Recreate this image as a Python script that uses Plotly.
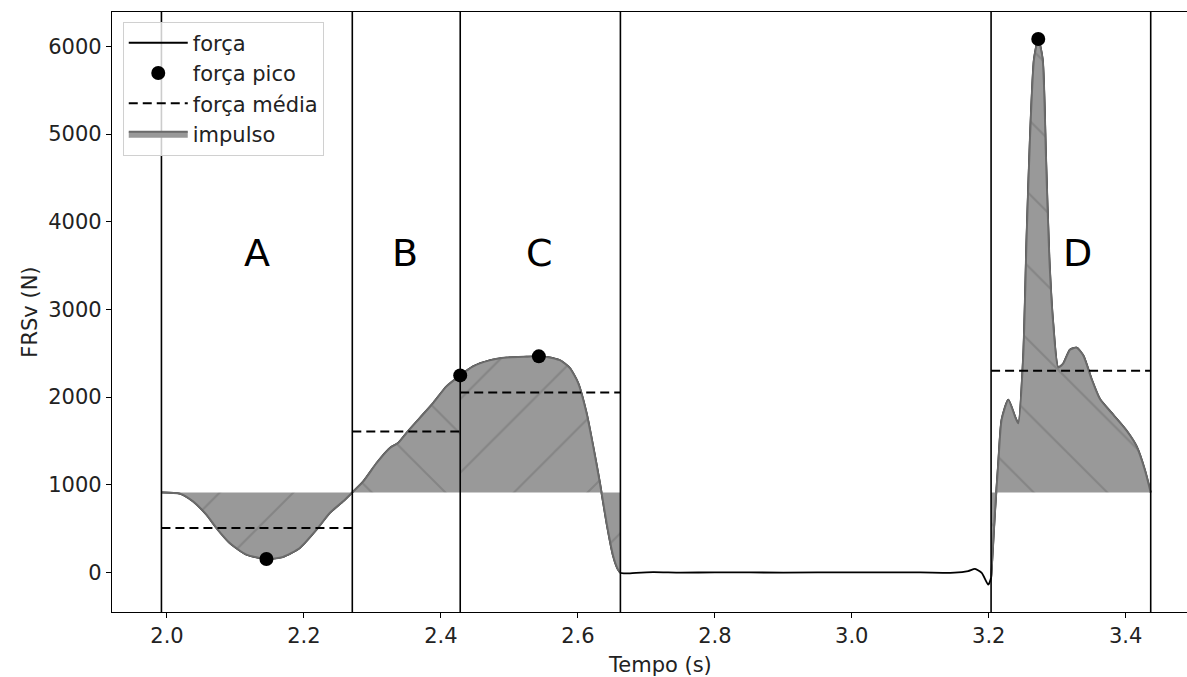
import numpy as np
import plotly.graph_objects as go

# ---- data ----
time_s = [1.9919, 2.0186, 2.0380, 2.0576, 2.0722, 2.0916, 2.1160, 2.1452, 2.1695, 2.1939, 2.2183, 2.2377, 2.2572, 2.2706,
          2.2867, 2.3062, 2.3256, 2.3375, 2.3497, 2.3692, 2.3887, 2.4082, 2.4282,
          2.4470, 2.4711, 2.4958, 2.5250, 2.5430, 2.5542, 2.5737, 2.5883, 2.6005, 2.6127, 2.6224, 2.6322, 2.6419, 2.6516, 2.6580, 2.6621,
          2.6700, 2.6850, 2.7100, 2.7500, 2.8000, 2.9000, 3.0000, 3.1000, 3.1500, 3.1700, 3.1799, 3.1897, 3.1993, 3.2034,
          3.2051, 3.2090, 3.2139, 3.2188, 3.2285, 3.2383, 3.2431, 3.2504, 3.2553, 3.2602, 3.2661, 3.2723, 3.2787, 3.2836, 3.2884,
          3.2942, 3.3015, 3.3088, 3.3186, 3.3284, 3.3381, 3.3503, 3.3624, 3.3819, 3.4014, 3.4160, 3.4281, 3.4365]
force_n = [912, 898, 810, 658, 506, 335, 202, 153, 176, 278, 487, 678, 810, 912,
           1038, 1248, 1419, 1476, 1590, 1761, 1932, 2122, 2247,
           2350, 2418, 2450, 2460, 2464, 2458, 2420, 2330, 2160, 1818, 1437, 1020, 563, 183, 40, -5,
           -12, -5, 2, -3, 0, -2, 0, 0, -4, 15, 40, -5, -140, -60,
           145, 678, 1248, 1742, 1970, 1780, 1700, 2473, 3827, 4954, 5856, 6084, 5856, 4728, 3601,
           2834, 2338, 2383, 2540, 2563, 2473, 2203, 1977, 1797, 1616, 1436, 1166, 912]

body_weight = 912
boundaries = [1.9919, 2.2706, 2.4282, 2.6621, 3.2034, 3.4365]
phase_labels = ["A", "B", "C", "D"]
phase_starts = [1.9919, 2.2706, 2.4282, 3.2034]
phase_ends = [2.2706, 2.4282, 2.6621, 3.4365]
phase_mean = [506, 1608, 2053, 2300]
phase_hatch = ["/", "\\", "/", "\\"]
label_x = [2.1311, 2.3473, 2.5445, 3.3302]
label_y = 3647
peak_t = [2.1452, 2.4282, 2.5430, 3.2723]
peak_f = [153, 2247, 2464, 6084]

x_ticks = [2.0, 2.2, 2.4, 2.6, 2.8, 3.0, 3.2, 3.4]
y_ticks = [0, 1000, 2000, 3000, 4000, 5000, 6000]

# ---- figure ----
t = np.array(time_s)
f = np.array(force_n)
FONT = "DejaVu Sans"
FILL = "#999999"
EDGE = "#6a6a6a"
FS = 21

fig = go.Figure()

# full force curve (black)
fig.add_trace(go.Scatter(x=t, y=f, mode="lines", name="força",
                         line=dict(color="black", width=1.8, shape="spline", smoothing=0.6),
                         legendgroup="g1", legendrank=1))

# impulse fills
for i in range(4):
    t0, t1 = phase_starts[i], phase_ends[i]
    m = (t >= t0 - 1e-9) & (t <= t1 + 1e-9)
    fig.add_trace(go.Scatter(x=[t0, t1], y=[body_weight, body_weight], mode="lines",
                             line=dict(width=0, color=FILL), showlegend=False, hoverinfo="skip"))
    fig.add_trace(go.Scatter(x=t[m], y=f[m], mode="lines", fill="tonexty", fillcolor=FILL,
                             fillpattern=dict(shape=phase_hatch[i], size=52, solidity=0.04,
                                              fgcolor="#858585", bgcolor=FILL, fillmode="replace"),
                             line=dict(color=EDGE, width=2, shape="spline", smoothing=0.6),
                             name="impulso", legendgroup="g4", legendrank=4, showlegend=(i == 3)))

# mean force dashed lines
mx, my = [], []
for i in range(4):
    mx += [phase_starts[i], phase_ends[i], None]
    my += [phase_mean[i], phase_mean[i], None]
fig.add_trace(go.Scatter(x=mx, y=my, mode="lines", name="força média",
                         line=dict(color="black", width=2, dash="9px,5px"),
                         legendgroup="g3", legendrank=3))

# peak points
fig.add_trace(go.Scatter(x=peak_t, y=peak_f, mode="markers", name="força pico",
                         marker=dict(color="black", size=14), legendgroup="g2", legendrank=2))

# vertical phase boundaries
for b in boundaries:
    fig.add_shape(type="line", x0=b, x1=b, y0=0, y1=1, xref="x", yref="paper",
                  line=dict(color="black", width=1.6), layer="above")

# phase letters
for lx, lab in zip(label_x, phase_labels):
    fig.add_annotation(x=lx, y=label_y, text=lab, showarrow=False, xanchor="center", yanchor="middle",
                       font=dict(family=FONT, size=38, color="black"))

# axis titles
fig.add_annotation(x=-0.0766, y=0.5, xref="paper", yref="paper", text="FRSv (N)", textangle=-90,
                   showarrow=False, xanchor="center", yanchor="middle",
                   font=dict(family=FONT, size=FS, color="#222"))
fig.add_annotation(x=0.5096, y=-0.088, xref="paper", yref="paper", text="Tempo (s)",
                   showarrow=False, xanchor="center", yanchor="middle",
                   font=dict(family=FONT, size=FS, color="#222"))

fig.update_layout(
    width=1187, height=677,
    margin=dict(l=112, r=0, t=12, b=65, pad=0),
    paper_bgcolor="white", plot_bgcolor="white",
    font=dict(family=FONT, size=FS, color="black"),
    legend=dict(x=0.01, y=0.984, xanchor="left", yanchor="top",
                bgcolor="rgba(255,255,255,0.8)", bordercolor="#d0d0d0", borderwidth=1,
                tracegroupgap=8, itemwidth=59, font=dict(family=FONT, size=FS, color="#222"),
                traceorder="normal"),
    showlegend=True,
)
fig.update_xaxes(range=[1.9197, 3.4895], tickvals=x_ticks, ticktext=[f"{v:.1f}" for v in x_ticks],
                 showline=True, linecolor="black", linewidth=1.2, mirror=True,
                 ticks="outside", ticklen=5, tickwidth=1.2, tickcolor="black",
                 showgrid=False, zeroline=False, tickfont=dict(family=FONT, size=FS, color="#222"))
fig.update_yaxes(range=[-452, 6392], tickvals=y_ticks, ticktext=[str(v) for v in y_ticks],
                 showline=True, linecolor="black", linewidth=1.2, mirror=False,
                 ticks="outside", ticklen=5, tickwidth=1.2, tickcolor="black",
                 showgrid=False, zeroline=False, tickfont=dict(family=FONT, size=FS, color="#222"))

fig.write_html("out.html", config={"displayModeBar": False},
               post_script="document.body.style.margin='0';document.body.style.overflow='hidden';")
